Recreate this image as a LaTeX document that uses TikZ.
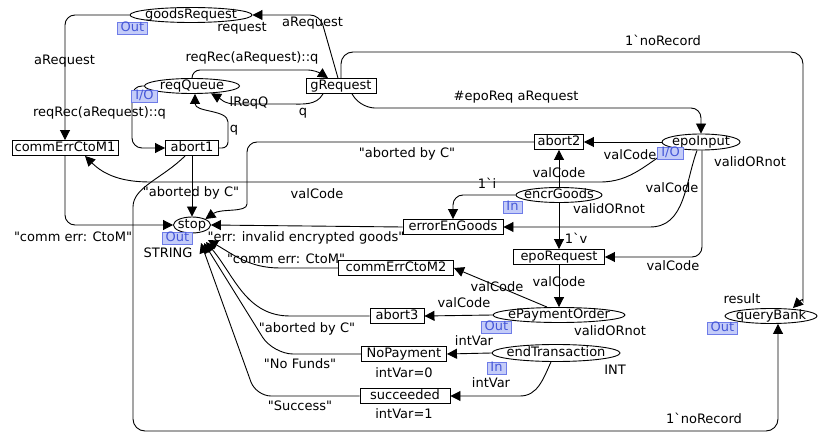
\documentclass[tikz,border=0pt]{standalone}
\usepackage{fontspec}
\setmainfont{DejaVu Sans}[Ligatures=TeXOff]
\usetikzlibrary{shapes.geometric,arrows.meta,positioning}
\definecolor{tagfill}{RGB}{196,204,248}
\definecolor{tagline}{RGB}{110,124,232}
\definecolor{tagtext}{RGB}{70,88,216}

\begin{document}
\begin{tikzpicture}[x=1pt, y=1pt, line width=0.9pt,
    every node/.style={font=\fontsize{13}{15}\selectfont, inner sep=0pt},
    place/.style={draw, ellipse, inner xsep=-8pt, inner ysep=-4pt, minimum height=15pt, text height=10pt, text depth=3pt},
    trans/.style={draw, rectangle, inner xsep=2pt, inner ysep=1pt, text height=10pt, text depth=3pt},
    tag/.style={draw=tagline, fill=tagfill, text=tagtext, inner xsep=3.5pt, inner ysep=0pt, text height=9.5pt, text depth=2.5pt},
    cpnarc/.style={-{Triangle[length=10pt,width=10pt]}}]
        \useasboundingbox (0,0) rectangle (822,434);
        \node[place, minimum width=122pt] (goodsRequest) at (191,419) {goodsRequest};
        \node[place, minimum width=95pt] (reqQueue) at (192,348) {reqQueue};
        \node[place, minimum width=37pt, minimum height=16pt] (stop) at (192,209) {stop};
        \node[place, minimum width=78pt, minimum height=16pt] (epoInput) at (701,292) {epoInput};
        \node[place, minimum width=86pt] (encrGoods) at (559,239) {encrGoods};
        \node[place, minimum width=132pt] (ePaymentOrder) at (559,119) {ePaymentOrder};
        \node[place, minimum width=128pt, minimum height=17pt] (endTransaction) at (556,81) {endTransaction};
        \node[place, minimum width=92pt] (queryBank) at (771,118) {queryBank};
        \node[trans, minimum width=70pt] (gRequest) at (341,348) {gRequest};
        \node[trans, minimum width=106pt] (commErrCtoM1) at (65,286) {commErrCtoM1};
        \node[trans, minimum width=53pt] (abort1) at (192,286) {abort1};
        \node[trans, minimum width=49pt] (abort2) at (559,292) {abort2};
        \node[trans, minimum width=100pt] (errorEnGoods) at (453,207) {errorEnGoods};
        \node[trans, minimum width=91pt] (epoRequest) at (559,177) {epoRequest};
        \node[trans, minimum width=115pt] (commErrCtoM2) at (396,166) {commErrCtoM2};
        \node[trans, minimum width=54pt] (abort3) at (397,118) {abort3};
        \node[trans, minimum width=85pt] (NoPayment) at (404,80) {NoPayment};
        \node[trans, minimum width=90pt] (succeeded) at (405,38) {succeeded};
        \node (lRequest) at (242,406) {request};
        \node (lARequestL) at (64.5,373) {aRequest};
        \node (lReqRecL) at (99.5,321) {reqRec(aRequest)::q};
        \node (lReqRecT) at (252,376) {reqRec(aRequest)::q};
        \node (lARequestT) at (312.5,411) {aRequest};
        \node (lReqQ) at (249,331) {lReqQ};
        \node (lQ1) at (303,321) {q};
        \node (lQ2) at (234,304) {q};
        \node (lEpoReq) at (516,337) {\#epoReq aRequest};
        \node (lNoRecT) at (663,394) {1\textasciigrave noRecord};
        \node (lAbortC1) at (191,241) {"aborted by C"};
        \node (lAbortC2) at (407,280) {"aborted by C"};
        \node (lValCode1) at (317,240) {valCode};
        \node (lInitI) at (487,251) {1\textasciigrave i};
        \node (lValCode2) at (630,279) {valCode};
        \node (lValCode3) at (559,261) {valCode};
        \node (lValid1) at (750,272) {validORnot};
        \node (lValCode4) at (672,246) {valCode};
        \node (lValid2) at (609,225) {validORnot};
        \node (lInitV) at (576,196) {1\textasciigrave v};
        \node (lValCode5) at (673,168) {valCode};
        \node (lValCode6) at (559,152) {valCode};
        \node (lCommErr1) at (73,197) {"comm err: CtoM"};
        \node (lString) at (168,181) {STRING};
        \node (lErrGoods) at (306,196) {"err: invalid encrypted goods"};
        \node (lCommErr2) at (286,175) {"comm err: CtoM"};
        \node (lValCode7) at (497,147) {valCode};
        \node (lValCode8) at (464,131) {valCode};
        \node (lAbortC3) at (307,105) {"aborted by C"};
        \node (lValid3) at (610,103) {validORnot};
        \node (lResult) at (742,135) {result};
        \node (lIntVar1) at (474,93) {intVar};
        \node (lNoFunds) at (300,70) {"No Funds"};
        \node (lInt) at (615,64) {INT};
        \node (lIntVar0) at (404,61) {intVar=0};
        \node (lIntVar2) at (491,51) {intVar};
        \node (lSuccess) at (300,28) {"Success"};
        \node (lIntVarEq1) at (404,20) {intVar=1};
        \node (lNoRecB) at (704,16) {1\textasciigrave noRecord};
        \draw[cpnarc, rounded corners=10pt] ([xshift=-3pt]gRequest.north) -- (320,419) -- (goodsRequest.east);
        \draw[cpnarc, rounded corners=10pt] (goodsRequest.west) -| (commErrCtoM1.north);
        \draw[cpnarc, rounded corners=8pt] (reqQueue.north) |- (316,364) -- ([xshift=-13pt]gRequest.north);
        \draw[cpnarc] ([xshift=-18pt]gRequest.south) to[out=-120,in=0] (290,330) -- (235,330) to[out=180,in=-30] (reqQueue.-21);
        \draw[cpnarc, rounded corners=6pt] (abort1.east) -| (228,306) to[out=90,in=-90] ([xshift=3pt]reqQueue.south);
        \draw[cpnarc, rounded corners=10pt] (reqQueue.west) -- (132,348) |- (abort1.west);
        \draw[cpnarc] (abort1) -- (stop);
        \draw[cpnarc, rounded corners=10pt] (commErrCtoM1.south) |- (stop.west);
        \draw[cpnarc] (epoInput.south west) to[out=-150,in=0] (600,252) -- (150,252) to[out=180,in=-45] ([xshift=20pt]commErrCtoM1.south);
        \draw[cpnarc] (epoInput) -- (abort2);
        \draw[cpnarc, rounded corners=10pt] (abort2.west) -| (247,240) to[out=-90,in=35] (stop.north east);
        \draw[cpnarc] (encrGoods) -- (abort2);
        \draw[cpnarc, rounded corners=10pt] (encrGoods.west) -| (errorEnGoods.north);
        \draw[cpnarc] (encrGoods) -- (epoRequest);
        \draw[cpnarc] ([xshift=-4pt]epoInput.south) to[out=-110,in=0] (650,207) -- (errorEnGoods.east);
        \draw[cpnarc] (errorEnGoods.west) -- (stop.east);
        \draw[cpnarc, rounded corners=10pt] ([xshift=1pt]epoInput.south) |- (epoRequest.east);
        \draw[cpnarc] (epoRequest) -- (ePaymentOrder);
        \draw[cpnarc] ([xshift=-12pt]ePaymentOrder.north) -- (commErrCtoM2.east);
        \draw[cpnarc] (ePaymentOrder.west) -- (abort3.east);
        \draw[cpnarc] (commErrCtoM2.west) -- (280,166) to[out=180,in=-30] ([shift={(16pt,-15pt)}]stop.center);
        \draw[cpnarc] (abort3.west) -- (290,118) to[out=180,in=-50] ([shift={(14pt,-17pt)}]stop.center);
        \draw[cpnarc, rounded corners=20pt] (NoPayment.west) -- (273,80) -- ([shift={(12pt,-18pt)}]stop.center);
        \draw[cpnarc, rounded corners=15pt] (succeeded.west) -- (256,38) -- ([shift={(9pt,-18pt)}]stop.center);
        \draw[cpnarc, rounded corners=12pt] ([xshift=-7pt]abort1.south) to[out=-135,in=90] (133,215) -- (133,3) -| ([xshift=7pt]queryBank.south);
        \draw[cpnarc, rounded corners=12pt] (gRequest.north) |- (803,382) -- (803,145) to[out=-90,in=45] ([xshift=22pt]queryBank.north);
        \draw[cpnarc, rounded corners=10pt] ([xshift=11pt]gRequest.south) to[out=-60,in=180] (385,326) -| (epoInput.north);
        \draw[cpnarc] (endTransaction.west) -- (NoPayment.east);
        \draw[cpnarc] ([xshift=-5pt]endTransaction.south) to[out=-115,in=0] (520,38) -- (succeeded.east);
        \node[tag] (goodsRequestTag) at (132.5,406) {Out};
        \node[tag] (reqQueueTag) at (144.5,337.5) {I/O};
        \node[tag] (stopTag) at (177.5,196) {Out};
        \node[tag] (epoInputTag) at (670.5,281) {I/O};
        \node[tag] (encrGoodsTag) at (512.5,226.5) {In};
        \node[tag] (ePaymentOrderTag) at (496.5,107) {Out};
        \node[tag] (endTransactionTag) at (496.5,66) {In};
        \node[tag] (queryBankTag) at (722.5,105.5) {Out};
      \end{tikzpicture}
\end{document}
